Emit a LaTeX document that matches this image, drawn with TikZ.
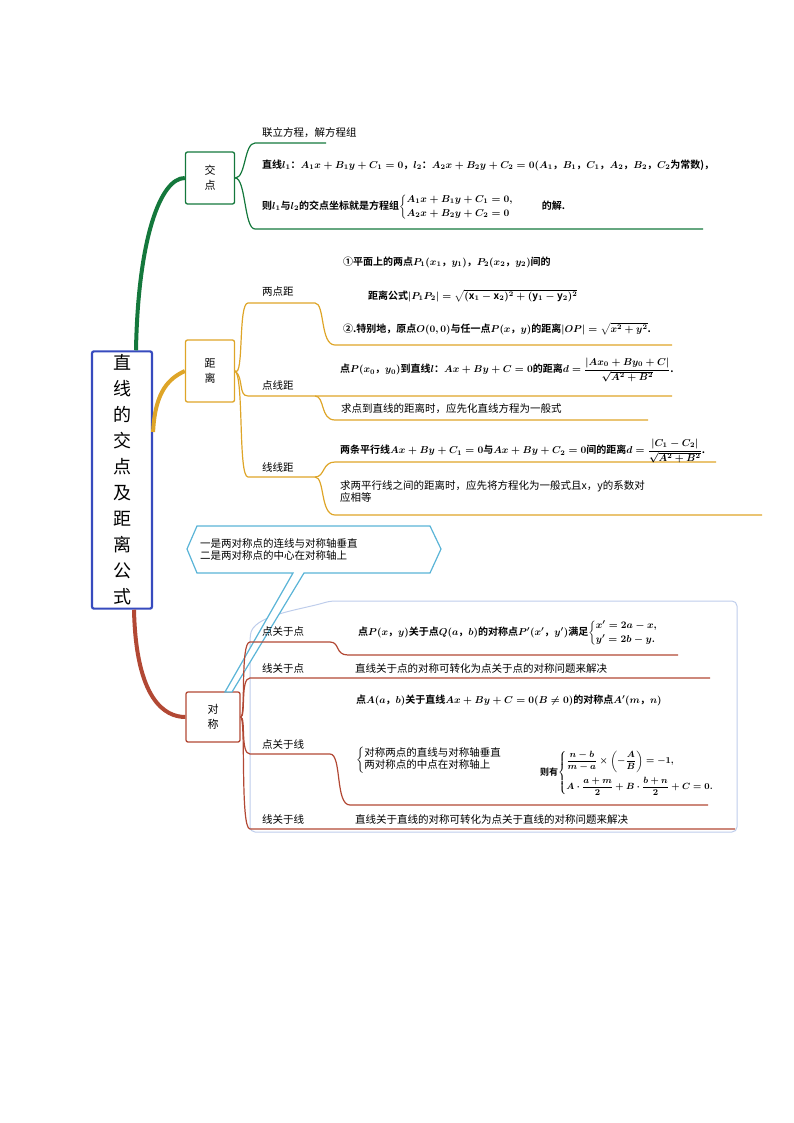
\documentclass[tikz,border=0pt]{standalone}
\usepackage{amsmath}
\usepackage{fontspec}
\setmainfont{Noto Sans CJK SC}[BoldFont={Noto Sans CJK SC Bold}]
\usepackage{tikz}
\usetikzlibrary{positioning}
\definecolor{gre}{RGB}{20,120,60}
\definecolor{ora}{RGB}{222,165,40}
\definecolor{red}{RGB}{178,72,52}
\definecolor{blu}{RGB}{55,75,190}
\definecolor{cal}{RGB}{90,180,215}
\definecolor{frm}{RGB}{190,205,235}
\tikzset{
  box/.style={draw, rounded corners=2pt, line width=1.3pt, minimum width=49pt, minimum height=52pt, align=center, font=\fontsize{11}{15}\selectfont},
  lab/.style={anchor=west, inner sep=0pt, font=\fontsize{10.5}{12}\selectfont},
  txt/.style={anchor=west, inner sep=0pt, font=\bfseries\boldmath\fontsize{10}{12}\selectfont, align=left},
  br/.style={line width=1.2pt}
}
\begin{document}
\begin{tikzpicture}[x=1pt,y=-1pt]
\useasboundingbox (0,0) rectangle (794,1123);
% frame of the symmetry part
\draw[frm, line width=1pt, rounded corners=5pt] (250,832) -- (250,640) .. controls (252,615) and (300,610) .. (330,601) -- (737,601) -- (737,832) -- cycle;
% boxes
\node[box, draw=blu, line width=2.2pt, minimum width=60pt, minimum height=246pt, font=\fontsize{18}{26}\selectfont] (root) at (122,480) {直\\线\\的\\交\\点\\及\\距\\离\\公\\式};
\node[box, draw=gre] (jd) at (210,178) {交\\点};
\node[box, draw=ora, minimum height=62pt] (jl) at (210,371) {距\\离};
\node[box, draw=red, minimum width=54pt, minimum height=50pt] (dc) at (213,717) {对\\称};
% main branches
\draw[gre, line width=4pt] (root.north) ++(14,0) .. controls (138,240) and (160,178) .. (jd.west);
\draw[ora, line width=4pt] (root.east |- 0,432) .. controls (155,390) and (170,378) .. (jl.west);
\draw[red, line width=4pt] (root.south) ++(12,0) .. controls (136,700) and (165,717) .. (dc.west);
% intersection
\coordinate (j1) at (255,143); \coordinate (j2) at (255,229);
\draw[gre, br] (jd.east) .. controls (246,178) and (244,143) .. (j1) -- (326,143);
\draw[gre, br] (jd.east) .. controls (246,178) and (244,229) .. (j2) -- (703,229);
\node[lab] (j1t) at (262,133) {联立方程，解方程组};
\node[txt] (j2t) at (262,165) {直线$l_1$：$A_1x+B_1y+C_1=0$，$l_2$：$A_2x+B_2y+C_2=0(A_1，B_1，C_1，A_2，B_2，C_2$为常数)，};
\node[txt] (j3t) at (262,207) {则$l_1$与$l_2$的交点坐标就是方程组$\left\{\begin{array}{@{}l@{}}A_1x+B_1y+C_1=0,\\[2pt] A_2x+B_2y+C_2=0\end{array}\right.$\hspace{28pt}的解.};
% distance
\coordinate (d1) at (248,303); \coordinate (d2) at (248,396); \coordinate (d3) at (248,477);
\draw[ora, br] (jl.east) .. controls (244,378) and (238,303) .. (d1) -- (315,303) .. controls (325,303) and (320,345) .. (335,345) -- (672,345);
\draw[ora, br] (jl.east) .. controls (244,378) and (238,396) .. (d2) -- (672,396);
\draw[ora, br] (315,396) .. controls (325,396) and (320,420) .. (335,420) -- (648,420);
\draw[ora, br] (jl.east) .. controls (244,378) and (238,477) .. (d3) -- (315,477) .. controls (325,477) and (322,462) .. (335,462) -- (716,462);
\draw[ora, br] (315,477) .. controls (325,477) and (320,515) .. (335,515) -- (762,515);
\node[lab] at (262,292) {两点距};
\node[lab] at (262,385) {点线距};
\node[lab] at (262,467) {线线距};
\node[txt] at (343,262) {①平面上的两点$P_1(x_1，y_1)$，$P_2(x_2，y_2)$间的};
\node[txt] at (368,296) {距离公式$|P_1P_2|=\sqrt{(\mathrm{x}_1-\mathrm{x}_2)^2+(\mathrm{y}_1-\mathrm{y}_2)^2}$};
\node[txt] at (343,329) {②.特别地，原点$O(0,0)$与任一点$P(x，y)$的距离$|OP|=\sqrt{x^2+y^2}$.};
\node[txt] at (340,370) {点$P(x_0，y_0)$到直线$l$：$Ax+By+C=0$的距离$d=\dfrac{|Ax_0+By_0+C|}{\sqrt{A^2+B^2}}$.};
\node[lab] at (341,409) {求点到直线的距离时，应先化直线方程为一般式};
\node[txt] at (340,451) {两条平行线$Ax+By+C_1=0$与$Ax+By+C_2=0$间的距离$d=\dfrac{|C_1-C_2|}{\sqrt{A^2+B^2}}$.};
\node[lab, align=left] at (340,492) {求两平行线之间的距离时，应先将方程化为一般式且x，y的系数对\\应相等};
% callout
\draw[cal, line width=1.2pt, fill=white] (187,549) -- (197,526) -- (430,526) -- (441,549) -- (430,573) -- (304,573) -- (232,692) -- (225,692) -- (293,573) -- (197,573) -- cycle;
\node[lab, align=left] (cl) at (200,549) {一是两对称点的连线与对称轴垂直\\二是两对称点的中心在对称轴上};
% symmetry
\coordinate (s1) at (250,642); \coordinate (s2) at (250,678); \coordinate (s3) at (250,754); \coordinate (s4) at (250,829);
\draw[red, br] (dc.east) .. controls (246,717) and (240,642) .. (s1) -- (330,642) .. controls (340,642) and (335,655) .. (348,655) -- (678,655);
\draw[red, br] (dc.east) .. controls (246,717) and (240,678) .. (s2) -- (710,678);
\draw[red, br] (dc.east) .. controls (246,717) and (240,754) .. (s3) -- (330,754) .. controls (342,754) and (335,805) .. (350,805) -- (708,805);
\draw[red, br] (dc.east) .. controls (246,717) and (240,829) .. (s4) -- (735,829);
\node[lab] at (262,631) {点关于点};
\node[lab] at (262,668) {线关于点};
\node[lab] at (262,744) {点关于线};
\node[lab] at (262,819) {线关于线};
\node[txt] at (358,633) {点$P(x，y)$关于点$Q(a，b)$的对称点$P'(x'，y')$满足$\left\{\begin{array}{@{}l@{}}x'=2a-x,\\[2pt] y'=2b-y.\end{array}\right.$};
\node[lab] at (355,668) {直线关于点的对称可转化为点关于点的对称问题来解决};
\node[txt] at (356,700) {点$A(a，b)$关于直线$Ax+By+C=0(B\neq0)$的对称点$A'(m，n)$};
\node[lab, align=left] at (356,760) {$\left\{\begin{array}{@{}l@{}}\text{对称两点的直线与对称轴垂直}\\ \text{两对称点的中点在对称轴上}\end{array}\right.$};
\node[txt, font=\bfseries\boldmath\fontsize{9}{11}\selectfont] at (540,773) {则有$\left\{\begin{array}{@{}l@{}}\dfrac{n-b}{m-a}\times\left(-\dfrac{A}{B}\right)=-1,\\[10pt] A\cdot\dfrac{a+m}{2}+B\cdot\dfrac{b+n}{2}+C=0.\end{array}\right.$};
\node[lab] at (355,819) {直线关于直线的对称可转化为点关于直线的对称问题来解决};
\end{tikzpicture}
\end{document}
